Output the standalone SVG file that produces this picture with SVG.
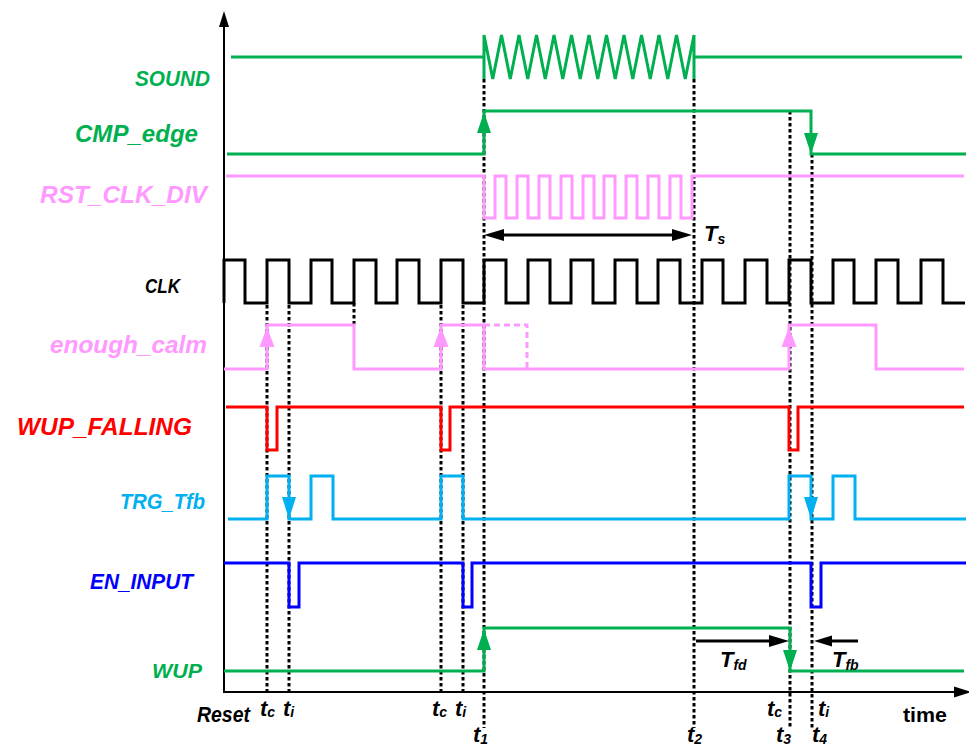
<svg xmlns="http://www.w3.org/2000/svg" width="969" height="747" viewBox="0 0 969 747">
<style>
.sig{fill:none;stroke-width:3;stroke-linejoin:miter}
.g{stroke:#00B050}.gf{fill:#00B050}
.p{stroke:#FF99FF}.pf{fill:#FF99FF}
.r{stroke:#FF0000}
.lb{stroke:#00B0F0}.lbf{fill:#00B0F0}
.b{stroke:#0000FF}
.k{stroke:#000}
.dot{fill:none;stroke:#000;stroke-width:3;stroke-dasharray:3.5 2.5}
.lab{font-family:"Liberation Sans",Arial,sans-serif;font-weight:bold;font-style:italic}
.tl{font-family:"Liberation Sans",Arial,sans-serif;font-weight:bold;font-style:italic;font-size:22px;fill:#000}
.sub{font-size:14px}
</style>
<rect width="969" height="747" fill="#fff"/>

<g id="axes">
<line x1="224" y1="24" x2="224" y2="693" stroke="#000" stroke-width="2"/>
<polygon points="224,11 219,27 229,27" fill="#000"/>
<line x1="224" y1="692" x2="956" y2="692" stroke="#000" stroke-width="2"/>
<polygon points="971,692 954,686.5 954,697.5" fill="#000"/>
</g>

<g id="connectors">
<path class="dot" d="M267,305V692M289,305V692M441,305V692M463,305V692M354,303V325M484,79V728M694,79V728M790,111V728M812,154V728"/>
<g id="Ts-arrow">
<line x1="502" y1="235" x2="674" y2="235" stroke="#000" stroke-width="3"/>
<polygon points="484,235 504,229 504,241" fill="#000"/>
<polygon points="692,235 672,229 672,241" fill="#000"/>
</g>
<g id="Tfd-arrow">
<line x1="696" y1="641" x2="771" y2="641" stroke="#000" stroke-width="3"/>
<polygon points="789,641 769,635 769,647" fill="#000"/>
</g>
<g id="Tfb-arrow">
<line x1="830" y1="641" x2="858" y2="641" stroke="#000" stroke-width="3"/>
<polygon points="814,641 832,635.5 832,646.5" fill="#000"/>
</g>
</g>

<g id="SOUND">
<text class="lab" x="135" y="86" font-size="22" textLength="75" lengthAdjust="spacingAndGlyphs" fill="#00B050">SOUND</text>
<path class="sig g" stroke-linejoin="round" d="M231,57H484M484,79V35L492.75,79L501.5,35L510.25,79L519,35L527.75,79L536.5,35L545.25,79L554,35L562.75,79L571.5,35L580.25,79L589,35L597.75,79L606.5,35L615.25,79L624,35L632.75,79L641.5,35L650.25,79L659,35L667.75,79L676.5,35L685.25,79L694,35V79M694,57H962"/>
</g>

<g id="CMP_edge">
<text class="lab" x="75" y="142" font-size="23" textLength="123" lengthAdjust="spacingAndGlyphs" fill="#00B050">CMP_edge</text>
<path class="sig g" d="M227,154H484V111H811V154H966"/>
<polygon class="gf" points="484,112 477,133 491,133"/>
<polygon class="gf" points="811,154 804,133 818,133"/>
</g>

<g id="RST_CLK_DIV">
<text class="lab" x="40" y="203" font-size="23" textLength="167" lengthAdjust="spacingAndGlyphs" fill="#FF99FF">RST_CLK_DIV</text>
<path class="sig p" stroke-width="2.5" d="M226,176H484V218H495V176H506V218H517V176H528V218H539V176H550V218H561V176H572V218H583V176H594V218H604V176H615V218H626V176H637V218H648V176H659V218H670V176H681V218H692V176H964"/>
</g>

<g id="CLK">
<text class="lab" x="145" y="293" font-size="21" textLength="35" lengthAdjust="spacingAndGlyphs" fill="#000">CLK</text>
<path class="sig k" d="M224,303V260H245V303H267V260H289V303H311V260H332V303H354V260H376V303H397V260H419V303H441V260H463V303H484V260H506V303H528V260H550V303H571V260H593V303H615V260H637V303H658V260H680V303H702V260H723V303H745V260H767V303H789V260H811V303H833V260H854V303H876V260H898V303H921V260H943V303H965"/>
</g>

<g id="enough_calm">
<text class="lab" x="50" y="353" font-size="23" textLength="157" lengthAdjust="spacingAndGlyphs" fill="#FF99FF">enough_calm</text>
<path class="sig p" d="M224,369H267V325H354V369H441V325H484V369H789V325H876V369H964"/>
<path class="sig p" stroke-dasharray="6 4" d="M484,325H527V369"/>
<polygon class="pf" points="267,327 259.5,347 274.5,347"/>
<polygon class="pf" points="441,327 433.5,347 448.5,347"/>
<polygon class="pf" points="789,327 781.5,347 796.5,347"/>
</g>

<g id="WUP_FALLING">
<text class="lab" x="17" y="435" font-size="24" textLength="175" lengthAdjust="spacingAndGlyphs" fill="#FF0000">WUP_FALLING</text>
<path class="sig r" d="M226,407H267V450H277V407H441V450H450V407H789V450H798V407H964"/>
</g>

<g id="TRG_Tfb">
<text class="lab" x="120" y="509" font-size="22" textLength="85" lengthAdjust="spacingAndGlyphs" fill="#00B0F0">TRG_Tfb</text>
<path class="sig lb" d="M228,519H267V476H289V519H311V476H333V519H441V476H463V519H789V476H811V519H833V476H855V519H966"/>
<polygon class="lbf" points="289,519 282,497 296,497"/>
<polygon class="lbf" points="811,519 804,497 818,497"/>
</g>

<g id="EN_INPUT">
<text class="lab" x="90" y="589" font-size="22" textLength="103" lengthAdjust="spacingAndGlyphs" fill="#0000FF">EN_INPUT</text>
<path class="sig b" d="M224,563H289V607H299V563H463V607H472V563H811V607H821V563H966"/>
</g>

<g id="WUP">
<text class="lab" x="152" y="678" font-size="21" textLength="50" lengthAdjust="spacingAndGlyphs" fill="#00B050">WUP</text>
<path class="sig g" d="M224,671H484V628H790V671H964"/>
<polygon class="gf" points="484,629 477,650 491,650"/>
<polygon class="gf" points="790,671 783,650 797,650"/>
</g>

<g id="labels">
<text class="tl" x="704" y="241" font-size="19">T<tspan class="sub" dy="3">s</tspan></text>
<text class="tl" x="720" y="667" font-size="21">T<tspan class="sub" dy="3">fd</tspan></text>
<text class="tl" x="832" y="667" font-size="21">T<tspan class="sub" dy="3">fb</tspan></text>
<text class="tl" x="197" y="722" font-size="20" textLength="53" lengthAdjust="spacingAndGlyphs">Reset</text>
<text class="tl" x="260" y="716">t<tspan class="sub" dy="1">c</tspan></text>
<text class="tl" x="283" y="716">t<tspan class="sub" dy="1">i</tspan></text>
<text class="tl" x="432" y="716">t<tspan class="sub" dy="1">c</tspan></text>
<text class="tl" x="455" y="716">t<tspan class="sub" dy="1">i</tspan></text>
<text class="tl" x="767" y="716">t<tspan class="sub" dy="1">c</tspan></text>
<text class="tl" x="818" y="716">t<tspan class="sub" dy="1">i</tspan></text>
<text class="tl" x="473" y="742">t<tspan class="sub" dy="2">1</tspan></text>
<text class="tl" x="687" y="742">t<tspan class="sub" dy="2">2</tspan></text>
<text class="tl" x="776" y="742">t<tspan class="sub" dy="2">3</tspan></text>
<text class="tl" x="812" y="742">t<tspan class="sub" dy="2">4</tspan></text>
<text x="903" y="722" font-family="'Liberation Sans',Arial,sans-serif" font-weight="bold" font-size="21" textLength="44" lengthAdjust="spacingAndGlyphs" fill="#000">time</text>
</g>
</svg>
